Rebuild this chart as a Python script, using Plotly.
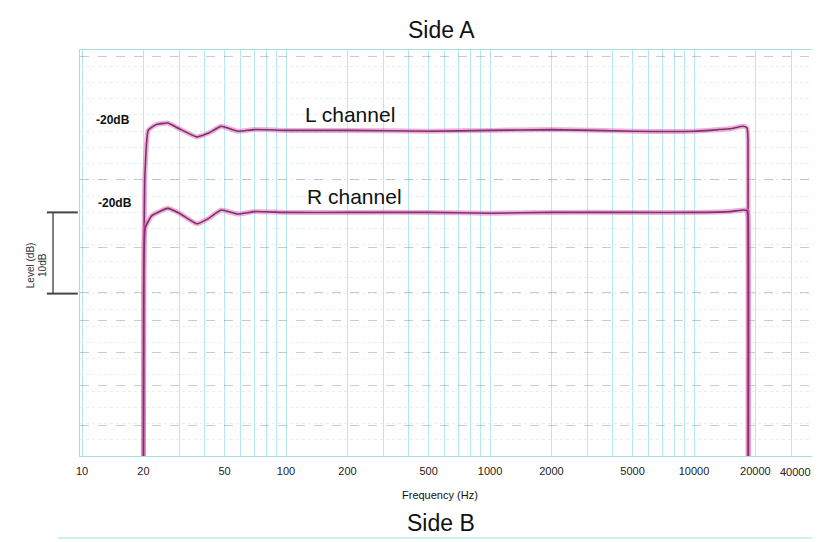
import math
import plotly.graph_objects as go

# ---- data ----
freq_L = [20, 20.05, 20.3, 21.1, 23, 26.3, 30, 36.5, 42, 48, 58, 70, 100, 200, 500,
          1000, 2000, 5000, 10000, 15000, 17500, 18200, 18400, 18450]
level_L = [0, 20, 34, 40.1, 40.8, 41.0, 40.3, 39.3, 39.8, 40.6, 40.0, 40.2, 40.1, 40.1, 40.0,
           40.1, 40.2, 40.0, 40.0, 40.3, 40.6, 40.4, 39.0, 0]

freq_R = [20, 20.05, 20.4, 22, 26.3, 30, 36.5, 42, 48, 58, 70, 100, 200, 500,
          1000, 2000, 5000, 10000, 15000, 17500, 18200, 18400, 18450]
level_R = [0, 15, 28.1, 29.6, 30.5, 29.9, 28.6, 29.3, 30.3, 29.8, 30.1, 30.0, 30.0, 30.0,
           29.9, 30.0, 30.0, 30.0, 30.1, 30.3, 30.2, 29.5, 0]

tick_labels = [10, 20, 50, 100, 200, 500, 1000, 2000, 5000, 10000, 20000]
edge_tick_label = "40000"
grid_freqs = [m * 10 ** k for k in range(1, 5) for m in range(1, 10) if m * 10 ** k <= 40000]
dark_rule_levels = [3.8, 8.7, 12.8, 16.7, 20.1, 25.7, 34.0, 49.2]

FONT = "Liberation Sans, Arial, sans-serif"
glow = "rgba(226,112,184,0.55)"
core = "#7d3170"

fig = go.Figure()
for fx, ly in [(freq_L, level_L), (freq_R, level_R)]:
    fig.add_trace(go.Scatter(x=fx, y=ly, mode="lines", line=dict(color=glow, width=5, shape="spline", smoothing=0.4),
                             hoverinfo="skip", showlegend=False))
    fig.add_trace(go.Scatter(x=fx, y=ly, mode="lines", line=dict(color=core, width=1.6, shape="spline", smoothing=0.4),
                             showlegend=False))

# dark dashed rules on the paper (overlay axis)
fig.add_trace(go.Scatter(x=[100], y=[0], yaxis="y2", mode="markers", marker=dict(opacity=0), showlegend=False,
                         hoverinfo="skip"))

tickvals = grid_freqs
ticktext = [f"{v}" if v in tick_labels else "" for v in grid_freqs]

# page body has an 8px default margin, so the figure is 8px smaller and margins shifted
fig.update_layout(
    width=812, height=534,
    margin=dict(l=72, r=3, t=42, b=86),
    paper_bgcolor="white", plot_bgcolor="white",
    font=dict(family=FONT, color="#333"),
    xaxis=dict(type="log", range=[0.990, 4.603], tickvals=tickvals, ticktext=ticktext,
               automargin=False, ticklabelstandoff=5,
               showgrid=True, gridcolor="#b5e9f1", gridwidth=1, zeroline=False,
               showline=True, linecolor="#a9dde6", mirror=True, ticks="",
               tickfont=dict(size=11, color="#222")),
    yaxis=dict(range=[0, 50], showticklabels=False, ticks="", dtick=2, automargin=False,
               showgrid=True, gridcolor="#dcf2f5", griddash="dot", zeroline=False,
               showline=True, linecolor="#a9dde6", mirror=True),
    yaxis2=dict(range=[0, 50], overlaying="y", showticklabels=False, ticks="", automargin=False,
                tickvals=dark_rule_levels, showgrid=True, gridcolor="rgba(70,70,70,0.28)",
                griddash="dash", zeroline=False, showline=False),
)

ann = [
    dict(text="Side A", x=0.491, y=1.049, size=23),
    dict(text="Side B", x=0.49, y=-0.165, size=23),
    dict(text="Frequency (Hz)", x=0.488, y=-0.096, size=11),
    dict(text="L channel", x=0.366, y=0.842, size=21),
    dict(text="R channel", x=0.372, y=0.638, size=21),
    dict(text="<b>-20dB</b>", x=0.045, y=0.827, size=12),
    dict(text="<b>-20dB</b>", x=0.047, y=0.622, size=12),
]
for a in ann:
    fig.add_annotation(text=a["text"], xref="paper", yref="paper", x=a["x"], y=a["y"],
                       showarrow=False, xanchor="center", yanchor="middle",
                       font=dict(size=a["size"], family=FONT, color="#111"))

# last tick label sits at the right edge
fig.add_annotation(text=edge_tick_label, xref="paper", yref="paper", x=0.995, y=-0.04,
                   showarrow=False, xanchor="right", yanchor="middle",
                   font=dict(size=11, family=FONT, color="#222"))

fig.add_annotation(text="Level (dB)", xref="paper", yref="paper", x=-0.078, y=0.47, textangle=-90,
                   showarrow=False, font=dict(size=10, family=FONT, color="#333"))
fig.add_annotation(text="10dB", xref="paper", yref="paper", x=-0.062, y=0.47, textangle=-90,
                   showarrow=False, font=dict(size=10, family=FONT, color="#333"))

# level bracket
fig.add_shape(type="line", xref="paper", yref="y", x0=-0.0366, x1=-0.0366, y0=20, y1=30,
              line=dict(color="#555", width=1.5))
for yv in (20, 30):
    fig.add_shape(type="line", xref="paper", yref="y", x0=-0.045, x1=-0.003, y0=yv, y1=yv,
                  line=dict(color="#444", width=2))

# top edge of the next chart
fig.add_shape(type="line", xref="paper", yref="paper", x0=-0.03, x1=1.0, y0=-0.202, y1=-0.202,
              line=dict(color="#cdeff5", width=2))

fig.write_html("out.html")
